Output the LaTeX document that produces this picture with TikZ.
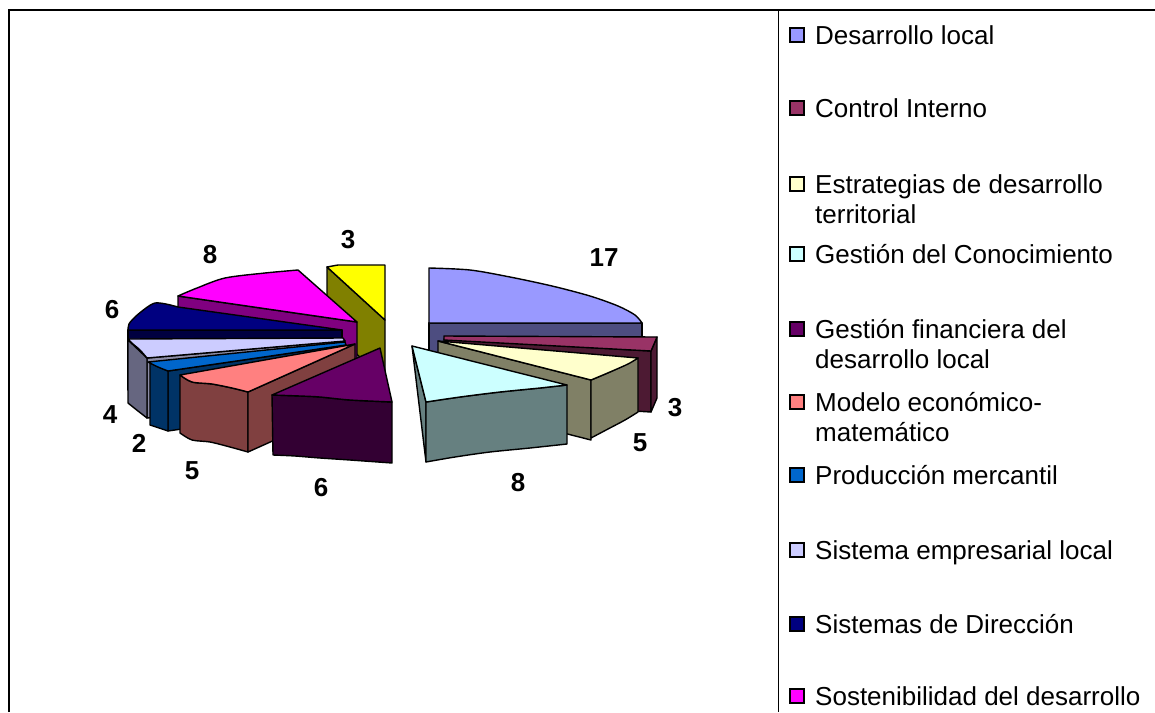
\documentclass[tikz,border=0pt]{standalone}
\usepackage{fontspec}
\setmainfont{Liberation Sans}
\usepackage{tikz}
\definecolor{dlTop}{HTML}{9999FF}\definecolor{dlSide}{HTML}{4D4D80}
\definecolor{ciTop}{HTML}{993366}\definecolor{ciSide}{HTML}{4D1A33}
\definecolor{edTop}{HTML}{FFFFCC}\definecolor{edSide}{HTML}{808066}
\definecolor{gcTop}{HTML}{CCFFFF}\definecolor{gcSide}{HTML}{668080}
\definecolor{gfTop}{HTML}{660066}\definecolor{gfSide}{HTML}{330033}
\definecolor{meTop}{HTML}{FF8080}\definecolor{meSide}{HTML}{804040}
\definecolor{pmTop}{HTML}{0066CC}\definecolor{pmSide}{HTML}{003366}
\definecolor{seTop}{HTML}{CCCCFF}\definecolor{seSide}{HTML}{666680}\definecolor{seRad}{HTML}{8C8CA6}
\definecolor{sdTop}{HTML}{000080}\definecolor{sdSide}{HTML}{000040}
\definecolor{ssTop}{HTML}{FF00FF}\definecolor{ssSide}{HTML}{800080}
\definecolor{yeTop}{HTML}{FFFF00}\definecolor{yeSide}{HTML}{808000}
\tikzset{
    slice/.style={draw=black,line width=1.4pt,line join=round},
    framing/.style={black,line width=2pt},
    divider/.style={black,line width=1pt},
    value/.style={font=\fontsize{26}{30}\selectfont\bfseries,inner sep=0pt},
    legtext/.style={font=\fontsize{26}{30}\selectfont,inner sep=0pt,anchor=base west},
    legbox/.style={draw=black,line width=1.2pt,minimum size=14pt,inner sep=0pt}
}

\begin{document}
\begin{tikzpicture}[x=1pt,y=-1pt]
\useasboundingbox (0,0) rectangle (1155,712);
\draw[framing] (9,712)--(9,10)--(1160,10);
\draw[divider] (778,10)--(778,712);
% right half
\filldraw[slice,fill=dlSide] (429,323) rectangle (642,383);
\filldraw[slice,fill=dlTop] (429,323)--plot[smooth] coordinates{(429,268) (470,270) (510,277) (552,286) (590,296) (618,306) (635,315) (642,323)}--cycle;
\filldraw[slice,fill=ciSide] (444,339)--(651,351)--(651,412)--(444,400)--cycle;
\filldraw[slice,fill=ciSide] (651,351)--(657,337)--(657,398)--(651,412)--cycle;
\filldraw[slice,fill=ciTop] (444,336)--(657,337)--(651,351)--(444,340)--cycle;
\filldraw[slice,fill=edSide] (438,341)--(591,380)--(591,440)--(438,401)--cycle;
\filldraw[slice,fill=edSide] (591,380)--plot[smooth] coordinates{(591,380) (612,371) (630,362) (638,358)}--(638,412)--plot[smooth] coordinates{(638,412) (625,420) (608,429) (591,438)}--cycle;
\filldraw[slice,fill=edTop] (438,341)--(638,358)--plot[smooth] coordinates{(638,358) (628,364) (610,372) (591,380)}--cycle;
\filldraw[slice,fill=gcSide] (412,346)--(426,402)--(426,462)--cycle;
\filldraw[slice,fill=gcSide] (426,402)--plot[smooth] coordinates{(426,402) (460,397) (500,392) (540,388) (567,385)}--(567,444)--plot[smooth] coordinates{(567,444) (530,448) (490,452) (455,457) (426,462)}--cycle;
\filldraw[slice,fill=gcTop] (412,346)--(567,385)--plot[smooth] coordinates{(567,385) (540,388) (500,392) (460,397) (426,402)}--cycle;
% left half
\filldraw[slice,fill=yeSide] (327,267)--(385,320)--(385,380)--(327,327)--cycle;
\filldraw[slice,fill=yeTop] (327,267)--(338,265)--(385,265)--(385,320)--cycle;
\filldraw[slice,fill=ssSide] (178,296)--(357,322)--(357,382)--(178,356)--cycle;
\filldraw[slice,fill=ssTop] (357,322)--(178,296)--plot[smooth] coordinates{(178,296) (197,288) (225,278) (265,273) (298,270)}--cycle;
\filldraw[slice,fill=sdSide] (128,330) rectangle (342,390);
\filldraw[slice,fill=sdTop] (342,330)--(128,330)--plot[smooth] coordinates{(128,330) (129,324) (135,317) (146,308) (155,303) (166,304) (178,307)}--cycle;
\filldraw[slice,fill=seRad] (147,358)--(345,341)--(345,401)--(147,418)--cycle;
\filldraw[slice,fill=seSide] (128,340)--(147,358)--(147,418)--plot[smooth] coordinates{(147,418) (138,411) (128,403)}--cycle;
\filldraw[slice,fill=seTop] (343,338)--(128,339)--plot[smooth] coordinates{(128,339) (133,344) (140,350) (147,358)}--(345,341)--cycle;
\filldraw[slice,fill=pmSide] (168,371)--(346,345)--(346,405)--(168,431)--cycle;
\filldraw[slice,fill=pmSide] (150,363)--(168,371)--(168,431)--(150,425)--cycle;
\filldraw[slice,fill=pmTop] (345,342)--(148,362)--plot[smooth] coordinates{(148,362) (158,367) (168,371)}--(346,345)--cycle;
\filldraw[slice,fill=meSide] (180,375)--plot[smooth] coordinates{(180,375) (192,382) (212,384) (232,388) (248,392)}--(248,452)--plot[smooth] coordinates{(248,452) (230,447) (210,442) (192,440) (180,433)}--cycle;
\filldraw[slice,fill=meSide] (248,392)--(355,344)--(355,404)--(248,452)--cycle;
\filldraw[slice,fill=meTop] (355,344)--(180,375)--plot[smooth] coordinates{(180,375) (192,382) (212,384) (232,388) (248,392)}--cycle;
\filldraw[slice,fill=gfSide] (272,395)--plot[smooth] coordinates{(272,395) (300,396) (320,397) (350,400) (392,402)}--(392,463)--plot[smooth] coordinates{(392,463) (350,460) (320,458) (295,456) (273,455)}--cycle;
\filldraw[slice,fill=gfTop] (380,348)--(272,395)--plot[smooth] coordinates{(272,395) (300,396) (320,397) (350,400) (392,402)}--cycle;
% values
\node[value] (vDL) at (604,258) {17};
\node[value] (vCI) at (675,408) {3};
\node[value] (vED) at (640,443) {5};
\node[value] (vGC) at (518,483) {8};
\node[value] (vGF) at (321,488) {6};
\node[value] (vME) at (192,471) {5};
\node[value] (vPM) at (139,443) {2};
\node[value] (vSE) at (110,415) {4};
\node[value] (vSD) at (112,310) {6};
\node[value] (vSS) at (210,255) {8};
\node[value] (vYE) at (348,240) {3};
% legend
\node[legbox,fill=dlTop] (bDL) at (797,35) {};
\node[legtext] (tDL) at (815,44) {Desarrollo local};
\node[legbox,fill=ciTop] (bCI) at (797,108) {};
\node[legtext] (tCI) at (815,117) {Control Interno};
\node[legbox,fill=edTop] (bED) at (797,184) {};
\node[legtext] (tED) at (815,193) {Estrategias de desarrollo};
\node[legtext] (tEDb) at (815,223) {territorial};
\node[legbox,fill=gcTop] (bGC) at (797,254) {};
\node[legtext] (tGC) at (815,263) {Gestión del Conocimiento};
\node[legbox,fill=gfTop] (bGF) at (797,329) {};
\node[legtext] (tGF) at (815,338) {Gestión financiera del};
\node[legtext] (tGFb) at (815,368) {desarrollo local};
\node[legbox,fill=meTop] (bME) at (797,402) {};
\node[legtext] (tME) at (815,411) {Modelo económico-};
\node[legtext] (tMEb) at (815,441) {matemático};
\node[legbox,fill=pmTop] (bPM) at (797,475) {};
\node[legtext] (tPM) at (815,484) {Producción mercantil};
\node[legbox,fill=seTop] (bSE) at (797,550) {};
\node[legtext] (tSE) at (815,559) {Sistema empresarial local};
\node[legbox,fill=sdTop] (bSD) at (797,624) {};
\node[legtext] (tSD) at (815,633) {Sistemas de Dirección};
\node[legbox,fill=ssTop] (bSS) at (797,696) {};
\node[legtext] (tSS) at (815,705) {Sostenibilidad del desarrollo};
\end{tikzpicture}
\end{document}
